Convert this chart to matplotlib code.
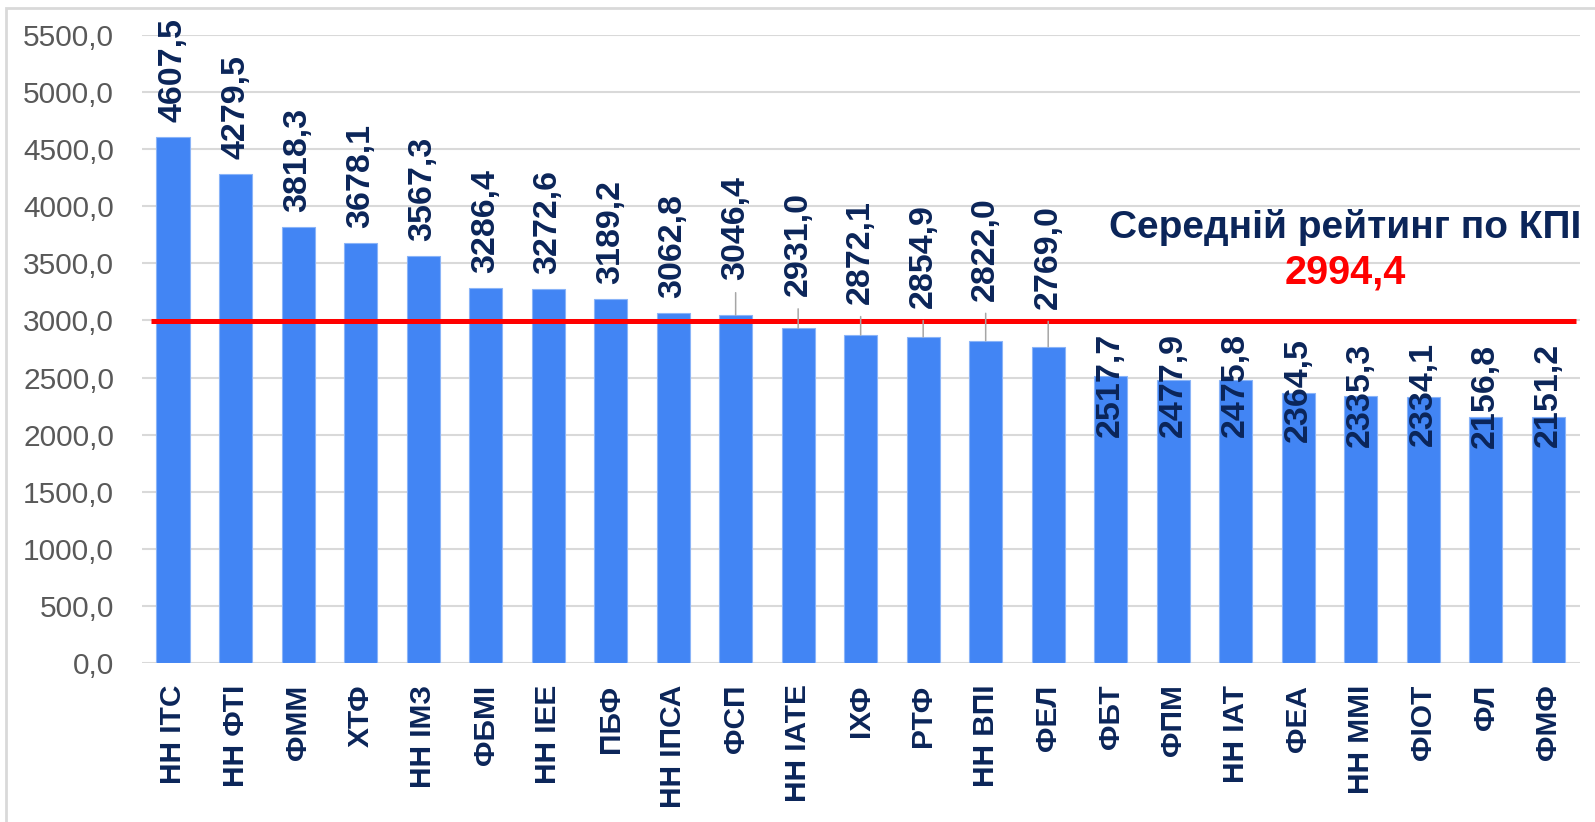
import matplotlib
matplotlib.use("Agg")
import matplotlib.pyplot as plt
from matplotlib.patches import Rectangle
from matplotlib.ticker import FuncFormatter, MultipleLocator

#------------------------------------------------------------------------------
#Data

categories = ['НН ІТС', 'НН ФТІ', 'ФММ', 'ХТФ', 'НН ІМЗ', 'ФБМІ', 'НН ІЕЕ', 'ПБФ',
              'НН ІПСА', 'ФСП', 'НН ІАТЕ', 'ІХФ', 'РТФ', 'НН ВПІ', 'ФЕЛ', 'ФБТ',
              'ФПМ', 'НН ІАТ', 'ФЕА', 'НН ММІ', 'ФІОТ', 'ФЛ', 'ФМФ']
values = [4607.5, 4279.5, 3818.3, 3678.1, 3567.3, 3286.4, 3272.6, 3189.2,
          3062.8, 3046.4, 2931.0, 2872.1, 2854.9, 2822.0, 2769.0, 2517.7,
          2477.9, 2475.8, 2364.5, 2335.3, 2334.1, 2156.8, 2151.2]
average = 2994.4
avg_title = 'Середній рейтинг по КПІ'

# label placement (pixels from bar top to label bottom), leader lines
label_shift = [15, 15, 15, 15, 15, 15, 15, 15, 15, 35, 32, 31, 29, 40, 38,
               -61, -57, -57, -49, -51, -49, -31, -30]
leader = [False]*9 + [True]*6 + [False]*8

#------------------------------------------------------------------------------
#Style

plt.rcParams['font.family'] = ['Liberation Sans', 'DejaVu Sans']
navy = '#0B2559'
blue = '#4285F4'
grid_gray = '#D9D9D9'

def fmt(v):
    return f"{v:.1f}".replace('.', ',')

#------------------------------------------------------------------------------
#Plot

fig = plt.figure(figsize=(15.95, 8.22), dpi=100)
ax = fig.add_axes([0.0889, 0.1934, 0.9014, 0.7640])

x = list(range(len(categories)))
ax.bar(x, values, width=0.53, color=blue, edgecolor='#8AB4F8', linewidth=0.8, zorder=2)

ax.set_xlim(-0.5, len(categories) - 0.5)
ax.set_ylim(0, 5500)
ax.yaxis.set_major_locator(MultipleLocator(500))
ax.yaxis.set_major_formatter(FuncFormatter(lambda v, p: fmt(v)))
ax.yaxis.grid(True, color=grid_gray, linewidth=1.5, zorder=0)
ax.set_axisbelow(True)
for s in ax.spines.values():
    s.set_visible(False)

ax.set_xticks(x)
ax.set_xticklabels(categories, rotation=90, fontsize=21.5, fontweight='bold', color=navy)
ax.tick_params(axis='x', length=0, pad=15.5)
ax.tick_params(axis='y', length=0, pad=20, labelsize=21.5, labelcolor='#595959')

# average line
ax.plot([-0.35, len(categories) - 0.55], [average, average], color='#FF0000',
        linewidth=3.6, zorder=4, solid_capstyle='butt')

# value labels
for i, v in enumerate(values):
    kw = dict(xy=(i, v), xytext=(0, label_shift[i]), textcoords='offset pixels',
              rotation=90, ha='center', va='bottom', fontsize=24.5,
              fontweight='bold', color=navy, annotation_clip=False, zorder=5)
    if leader[i]:
        kw['arrowprops'] = dict(arrowstyle='-', color='#A6A6A6', linewidth=1.1,
                                shrinkA=7, shrinkB=0)
    ax.annotate(fmt(v), **kw)

fig.text(0.8433, 0.7105, avg_title, ha='center', va='baseline', fontsize=28,
         fontweight='bold', color=navy)
fig.text(0.8433, 0.6557, fmt(average), ha='center', va='baseline', fontsize=28.5,
         fontweight='bold', color='#FF0000')

# outer frame
fig.patches.append(Rectangle((6/1595, -0.05), 1.2, 1.05 - 8/822, transform=fig.transFigure,
                             fill=False, edgecolor=grid_gray, linewidth=2))

fig.savefig("out.png", dpi=100)
